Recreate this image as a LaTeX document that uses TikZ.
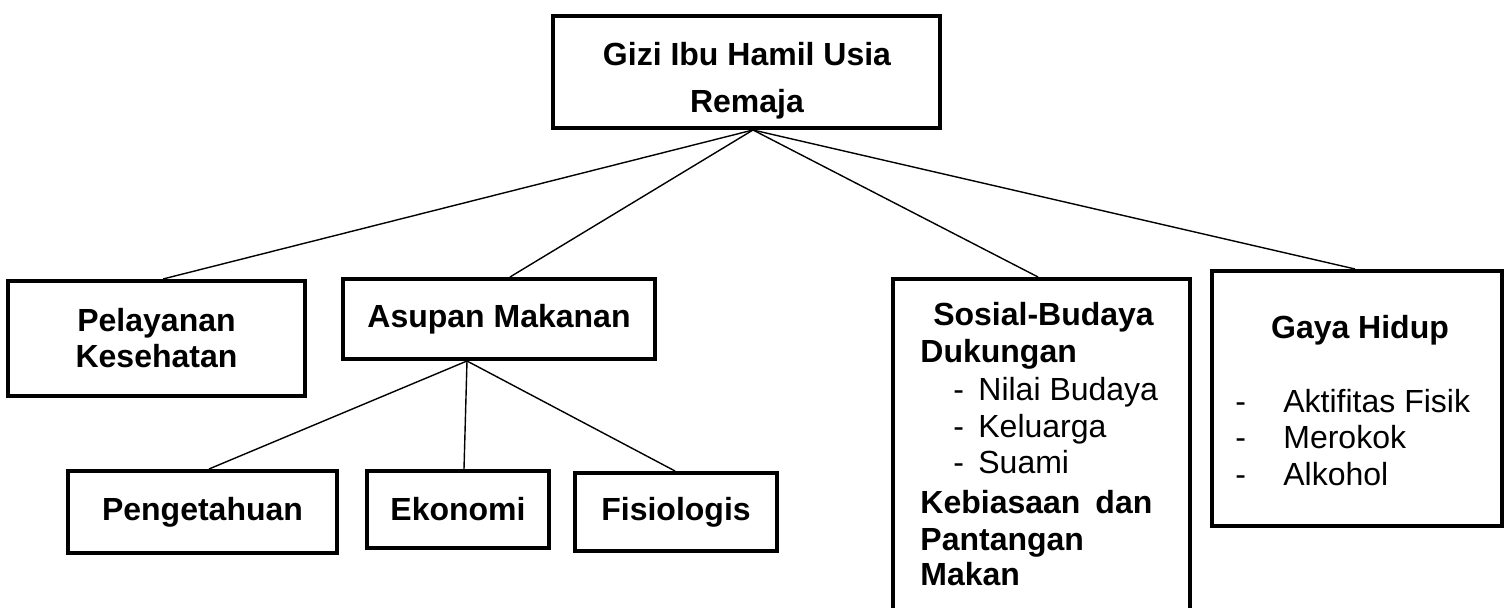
\documentclass[tikz,border=0pt]{standalone}
\usepackage{fontspec}
\setmainfont{Liberation Sans}
\begin{document}
\begin{tikzpicture}[x=0.5pt,y=-0.5pt,
  box/.style={draw, line width=2pt, inner sep=0pt, align=center,
    font=\fontsize{16pt}{18pt}\selectfont\bfseries},
  conn/.style={line width=0.7pt},
  bl/.style={inner sep=0pt, anchor=base, font=\fontsize{16pt}{18pt}\selectfont\bfseries},
  bw/.style={inner sep=0pt, anchor=base west, font=\fontsize{16pt}{18pt}\selectfont\bfseries},
  rw/.style={inner sep=0pt, anchor=base west, font=\fontsize{16pt}{18pt}\selectfont},
]
\useasboundingbox (0,0) rectangle (1505,608);

% boxes
\node[box, minimum width=193.5pt, minimum height=56pt] (top) at (746.5,72) {};
\node[box, minimum width=148.5pt, minimum height=57.5pt] (pel) at (156.5,338.5) {Pelayanan\\Kesehatan};
\node[box, minimum width=156pt, minimum height=40pt] (asu) at (499,319) {Asupan Makanan};
\node[box, minimum width=134.5pt, minimum height=41pt] (pen) at (202.5,512) {Pengetahuan};
\node[box, minimum width=91pt, minimum height=38.5pt] (eko) at (458,509.5) {Ekonomi};
\node[box, minimum width=101pt, minimum height=39pt] (fis) at (676,512) {Fisiologis};
\node[box, minimum width=148.5pt, minimum height=180.5pt] (sos) at (1041.5,459.5) {};
\node[box, minimum width=145pt, minimum height=127.5pt] (gaya) at (1357,398.5) {};

% top text
\node[bl] (t1) at (747,66) {Gizi Ibu Hamil Usia};
\node[bl] (t2) at (747,113) {Remaja};

% sosial-budaya text
\node[bl] (s1) at (1043.5,326) {Sosial-Budaya};
\node[bw] (s2) at (920,363) {Dukungan};
\node[rw] (s3) at (953,401) {\makebox[12.5pt][l]{-}Nilai Budaya};
\node[rw] (s4) at (953,438) {\makebox[12.5pt][l]{-}Keluarga};
\node[rw] (s5) at (953,474) {\makebox[12.5pt][l]{-}Suami};
\node[bw] (s6) at (920,514) {\makebox[116pt][s]{Kebiasaan\hfill dan}};
\node[bw] (s7) at (920,551) {Pantangan};
\node[bw] (s8) at (920,586) {Makan};

% gaya hidup text
\node[bl] (g1) at (1360,339) {Gaya Hidup};
\node[rw] (g2) at (1235,413) {\makebox[24pt][l]{-}Aktifitas Fisik};
\node[rw] (g3) at (1235,449) {\makebox[24pt][l]{-}Merokok};
\node[rw] (g4) at (1235,486) {\makebox[24pt][l]{-}Alkohol};

% connectors
\draw[conn] ([xshift=3.25pt]top.south) -- ([xshift=3.25pt]pel.north);
\draw[conn] ([xshift=3.25pt]top.south) -- ([xshift=5.5pt]asu.north);
\draw[conn] ([xshift=3.25pt]top.south) -- ([xshift=-1.75pt]sos.north);
\draw[conn] ([xshift=3.25pt]top.south) -- ([xshift=-1pt]gaya.north);
\draw[conn] ([xshift=-16pt]asu.south) -- ([xshift=3.25pt]pen.north);
\draw[conn] ([xshift=-16pt]asu.south) -- ([xshift=3pt]eko.north);
\draw[conn] ([xshift=-16pt]asu.south) -- ([xshift=-0.5pt]fis.north);
\end{tikzpicture}
\end{document}
